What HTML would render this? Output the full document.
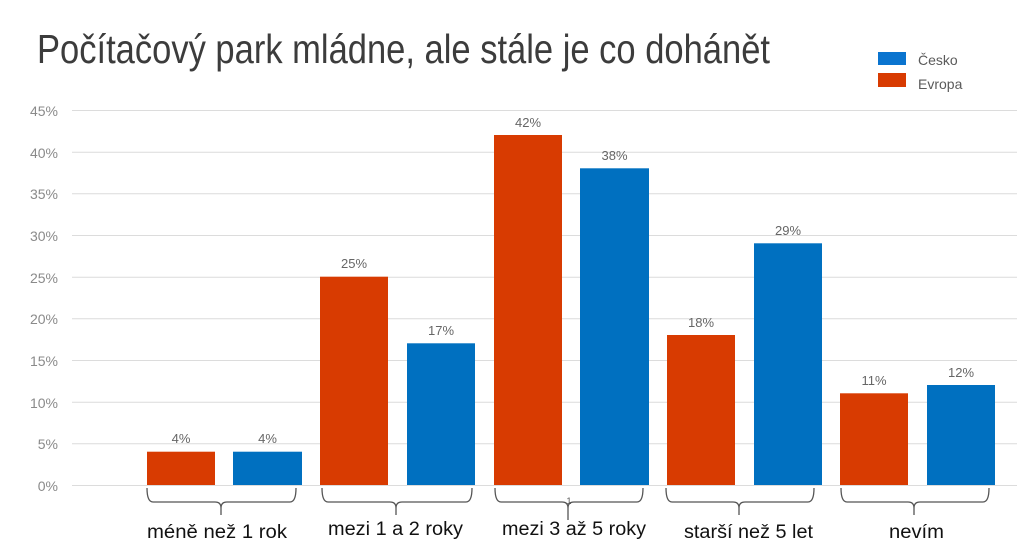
<!DOCTYPE html>
<html>
<head>
<meta charset="utf-8">
<style>
  html, body { margin: 0; padding: 0; background: #ffffff; }
  body { width: 1017px; height: 557px; overflow: hidden; }
  svg { display: block; }
</style>
</head>
<body>
<svg width="1017" height="557" viewBox="0 0 1017 557" xmlns="http://www.w3.org/2000/svg">
  <rect x="0" y="0" width="1017" height="557" fill="#ffffff"/>

  <!-- Title -->
  <text x="37" y="63" font-family="Liberation Sans, sans-serif" font-size="41" fill="#3c3c3c" textLength="733" lengthAdjust="spacingAndGlyphs">Počítačový park mládne, ale stále je co dohánět</text>

  <!-- Legend -->
  <rect x="878" y="52" width="28" height="13" fill="#0a74cf"/>
  <text x="918" y="65" font-family="Liberation Sans, sans-serif" font-size="14" fill="#5a5a5a">Česko</text>
  <rect x="878" y="73" width="28" height="14" fill="#d83b01"/>
  <text x="918" y="89" font-family="Liberation Sans, sans-serif" font-size="14" fill="#5a5a5a">Evropa</text>

  <!-- Gridlines -->
  <g stroke="#dcdcdc" stroke-width="1">
    <line x1="72" y1="110.5" x2="1017" y2="110.5"/>
    <line x1="72" y1="152.2" x2="1017" y2="152.2"/>
    <line x1="72" y1="193.8" x2="1017" y2="193.8"/>
    <line x1="72" y1="235.5" x2="1017" y2="235.5"/>
    <line x1="72" y1="277.2" x2="1017" y2="277.2"/>
    <line x1="72" y1="318.8" x2="1017" y2="318.8"/>
    <line x1="72" y1="360.5" x2="1017" y2="360.5"/>
    <line x1="72" y1="402.2" x2="1017" y2="402.2"/>
    <line x1="72" y1="443.8" x2="1017" y2="443.8"/>
    <line x1="72" y1="485.5" x2="1017" y2="485.5"/>
  </g>

  <!-- Y axis labels -->
  <g font-family="Liberation Sans, sans-serif" font-size="14" fill="#8a8a8a" text-anchor="end">
    <text x="58" y="116">45%</text>
    <text x="58" y="158">40%</text>
    <text x="58" y="199">35%</text>
    <text x="58" y="241">30%</text>
    <text x="58" y="283">25%</text>
    <text x="58" y="324">20%</text>
    <text x="58" y="366">15%</text>
    <text x="58" y="408">10%</text>
    <text x="58" y="449">5%</text>
    <text x="58" y="491">0%</text>
  </g>

  <!-- Bars: Evropa (red) -->
  <g fill="#d83b01">
    <rect x="147" y="451.7" width="68" height="33.3"/>
    <rect x="320" y="276.7" width="68" height="208.3"/>
    <rect x="494" y="135" width="68" height="350"/>
    <rect x="667" y="335" width="68" height="150"/>
    <rect x="840" y="393.3" width="68" height="91.7"/>
  </g>
  <!-- Bars: Česko (blue) -->
  <g fill="#0070c0">
    <rect x="233" y="451.7" width="69" height="33.3"/>
    <rect x="407" y="343.3" width="68" height="141.7"/>
    <rect x="580" y="168.3" width="69" height="316.7"/>
    <rect x="754" y="243.3" width="68" height="241.7"/>
    <rect x="927" y="385" width="68" height="100"/>
  </g>

  <!-- Data labels -->
  <g font-family="Liberation Sans, sans-serif" font-size="13" fill="#666666" text-anchor="middle">
    <text x="181" y="443">4%</text>
    <text x="267.5" y="443">4%</text>
    <text x="354" y="268">25%</text>
    <text x="441" y="335">17%</text>
    <text x="528" y="127">42%</text>
    <text x="614.5" y="160">38%</text>
    <text x="701" y="327">18%</text>
    <text x="788" y="235">29%</text>
    <text x="874" y="385">11%</text>
    <text x="961" y="377">12%</text>
  </g>

  <!-- Braces -->
  <g fill="none" stroke="#555555" stroke-width="1.3">
    <path d="M147 488 Q147 502 153 502 L215 502 Q221 502 221 508 L221 515 M221 508 Q221 502 227 502 L290 502 Q296 502 296 488"/>
    <path d="M322 488 Q322 502 328 502 L390 502 Q396 502 396 508 L396 515 M396 508 Q396 502 402 502 L466 502 Q472 502 472 488"/>
    <path d="M495 488 Q495 502 501 502 L562 502 Q568 502 568 508 L568 520 M568 508 Q568 502 574 502 L637 502 Q643 502 643 488"/>
    <path d="M666 488 Q666 502 672 502 L733 502 Q739 502 739 508 L739 515 M739 508 Q739 502 745 502 L808 502 Q814 502 814 488"/>
    <path d="M841 488 Q841 502 847 502 L908 502 Q914 502 914 508 L914 515 M914 508 Q914 502 920 502 L983 502 Q989 502 989 488"/>
  </g>
  <text x="569" y="504" font-family="Liberation Sans, sans-serif" font-size="9" fill="#555555" text-anchor="middle">1</text>

  <!-- Category labels -->
  <g font-family="Liberation Sans, DejaVu Sans, sans-serif" font-size="19" fill="#111111">
    <text x="147" y="538" textLength="140" lengthAdjust="spacingAndGlyphs">méně než 1 rok</text>
    <text x="328" y="535" textLength="135" lengthAdjust="spacingAndGlyphs">mezi 1 a 2 roky</text>
    <text x="502" y="535" textLength="144" lengthAdjust="spacingAndGlyphs">mezi 3 až 5 roky</text>
    <text x="684" y="538" textLength="129" lengthAdjust="spacingAndGlyphs">starší než 5 let</text>
    <text x="889" y="538" textLength="55" lengthAdjust="spacingAndGlyphs">nevím</text>
  </g>
</svg>
</body>
</html>
